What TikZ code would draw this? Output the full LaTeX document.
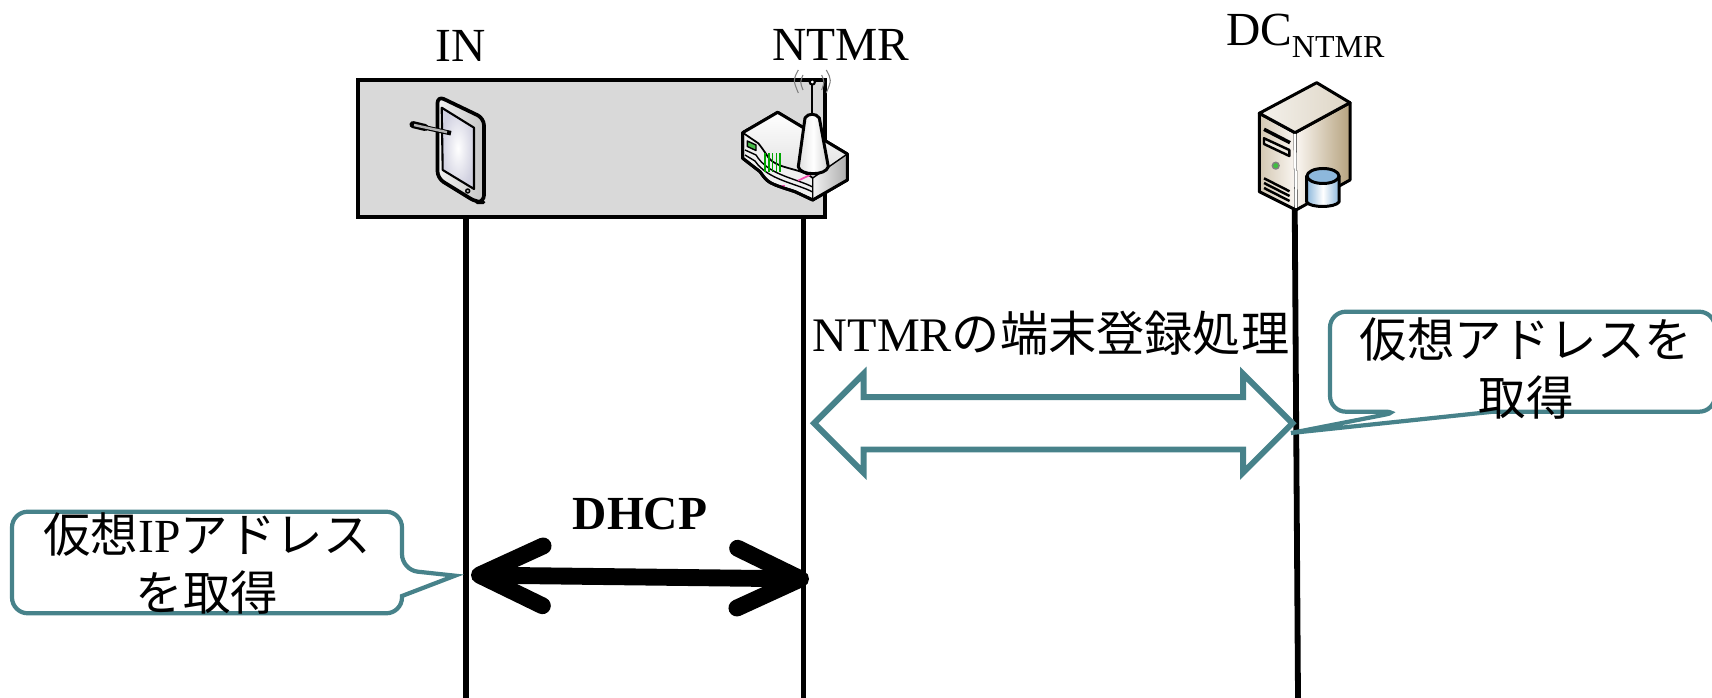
\documentclass[tikz,border=0pt]{standalone}
\usepackage{fontspec}
\setmainfont{Liberation Serif}
\newfontfamily\cjk{Noto Sans CJK JP}
\usetikzlibrary{arrows.meta,shapes.arrows}
\definecolor{calloutteal}{HTML}{47828A}
\definecolor{boxgray}{HTML}{D9D9D9}
\definecolor{drumblue}{HTML}{8DB8DC}
\definecolor{servertan}{HTML}{B5A27E}
\tikzset{
  bigtext/.style={font=\fontsize{13.5}{16.5}\selectfont,inner sep=0pt,outer sep=0pt},
  lifeline/.style={line width=1.65pt},
  icon/.style={line width=.85pt,line join=round},
  thin icon/.style={line width=.4pt,line join=round},
  calloutbox/.style={draw=calloutteal,line width=1.2pt,fill=white},
  dhcparrow/.style={line width=4.8pt,{Straight Barb[length=18pt,width=17pt,round]}-{Straight Barb[length=18pt,width=17pt,round]}},
  regarrow/.style={double arrow,draw=calloutteal,line width=1.7pt,inner xsep=0pt,inner ysep=6.6pt,
    double arrow head extend=6.6pt,minimum height=136pt,outer sep=0pt}
}
\begin{document}
\begin{tikzpicture}[x=.01cm,y=-.01cm]
  \useasboundingbox (0,0) rectangle (1712,698);
  \node[draw,line width=1.15pt,fill=boxgray,inner sep=0pt,minimum width=132.9pt,minimum height=38.9pt] (hostbox) at (591.5,148.5) {};
  \node[bigtext,anchor=base] (inlabel) at (461,62) {IN};
  \node[bigtext,anchor=base] (ntmrlabel) at (841,61) {NTMR};
  \node[bigtext,anchor=base west] (dclabel) at (1226,46) {DC\raisebox{-3.4pt}{\fontsize{9.1}{10}\selectfont NTMR}};
  \coordinate (intop) at (466,216);
  \coordinate (inend) at (466,698);
  \coordinate (ntmrtop) at (803.5,216);
  \coordinate (ntmrend) at (803.5,698);
  \coordinate (dctop) at (1294.7,205);
  \coordinate (dcend) at (1298,698);
  \draw[lifeline] (intop) -- (inend);
  \draw[lifeline] (ntmrtop) -- (ntmrend);
  \draw[lifeline] (dctop) -- (dcend);
  % tablet
  \draw[icon,line width=1.05pt,rounded corners=2pt,left color=gray!10,right color=gray!45] (437.5,178.3) -- (437.5,96) -- (484,118.3) -- (484,202.3) -- (476.5,202.3) -- cycle;
  \draw[thin icon,line width=.6pt,inner color=white,outer color=blue!20!gray!30] (441.7,107.7) -- (474,127.7) -- (474,189) -- (442.7,170) -- cycle;
  \draw[line width=2pt,line cap=round] (413,124.6) -- (425,127.5);
  \draw[line width=1.3pt] (425,127.5) -- (451,133.2);
  \draw[gray!60,line width=.7pt] (414,125) -- (447,132.2);
  \draw[thin icon,fill=gray!60] (467.7,191) circle (2);
  % router
  \draw[gray,line width=.3pt] (798.3,70) .. controls (793,80) .. (798.3,93);
  \draw[gray,line width=.3pt] (803,75) .. controls (800,82) .. (803,90);
  \draw[gray,line width=.3pt] (826.3,70) .. controls (831.6,80) .. (826.3,93);
  \draw[gray,line width=.3pt] (821.6,75) .. controls (824.6,82) .. (821.6,90);
  \draw[icon,fill=gray!12] (742.7,132.7) -- (742.7,158.3) -- (760,171.7) .. controls (768,183) .. (795,191.7) -- (812.7,200) -- (847.3,180) -- (847.3,154) -- (777.7,112.3) -- cycle;
  \draw[thin icon,draw=none,top color=white,bottom color=gray!25] (742.7,132.7) -- (777.7,112.3) -- (847.3,154) -- (812.7,178) .. controls (800,167) and (775,170) .. (766.7,155) .. controls (762,148) .. (758.3,143.3) -- cycle;
  \draw[thin icon,left color=gray!10,right color=gray!65] (812.7,178) -- (847.3,154) -- (847.3,180) -- (812.7,200) -- cycle;
  \draw[thin icon,line width=.5pt] (742.7,132.7) -- (758.3,143.3) .. controls (762,148) .. (766.7,155) .. controls (775,170) and (800,167) .. (812.7,178);
  \draw[thin icon] (745,150) -- (756,155) .. controls (768,175) and (795,178) .. (812.7,187);
  \draw[thin icon] (745,155) -- (755,161) .. controls (768,180) and (795,183) .. (812.7,192);
  \draw[thin icon,draw=black,fill=green!45!gray] (747.3,141) -- (756,145) -- (756,150.5) -- (747.3,146.5) -- cycle;
  \foreach \xtick in {765,769,772.7,776.7,780}
    \draw[green!65!black,line width=.35pt] (\xtick,153.5) -- (\xtick,172);
  \draw[magenta!70,line width=.5pt] (798,180.7) -- (810,175);
  \draw[magenta!70,line width=.5pt] (781.7,186) -- (785,186);
  \draw[icon] (742.7,132.7) -- (777.7,112.3) -- (847.3,154) -- (847.3,180) -- (812.7,200) -- (795,191.7) .. controls (768,183) .. (760,171.7) -- (742.7,158.3) -- cycle;
  \draw[line width=.6pt] (812.3,85) -- (812.3,115);
  \draw[line width=.6pt,fill=white] (812.3,82) circle (2.6);
  \draw[icon,left color=gray!25,right color=gray!35,middle color=white] (805,118) .. controls (808,113) and (816,113) .. (819.3,118) -- (828.3,166.7) .. controls (826,176) and (800,176) .. (798.3,166.7) -- cycle;
  % server
  \draw[icon,left color=brown!6!white,right color=servertan] (1295,132.7) -- (1350,102.7) -- (1350,180) -- (1296,210) -- cycle;
  \draw[icon,left color=servertan!60!white,right color=brown!6!white] (1259.3,113.3) -- (1295,132.7) -- (1296,210) -- (1259.3,191.7) -- cycle;
  \draw[icon,left color=servertan!15!white,right color=servertan!45!white] (1259.3,113.3) -- (1316.7,82.7) -- (1350,102.7) -- (1295,132.7) -- cycle;
  \draw[white,line width=.7pt] (1295,134) -- (1296,208);
  \draw[line width=1pt] (1264,129.3) -- (1290,142.7);
  \draw[thin icon,line width=.7pt,fill=servertan!25!white] (1264,138.3) -- (1289.3,150) -- (1289.3,156) -- (1264,144) -- cycle;
  \draw[thin icon,draw=gray,fill=green!50!gray] (1275.7,165.7) circle (3.4);
  \foreach \yvent in {178.3,183,188}
    \draw[line width=.7pt] (1264,\yvent) -- (1289.5,\yvent+13);
  \draw[icon,left color=drumblue,right color=drumblue,middle color=white] (1306.7,176) -- (1306.7,202) .. controls (1310,208) and (1335,208) .. (1339,202) -- (1339,176) -- cycle;
  \draw[icon,thin icon,draw=black,line width=.85pt,fill=drumblue] (1323,176) ellipse (16 and 7.5);
  % sequence
  \node[bigtext,anchor=base,font=\fontsize{13.5}{16.5}\selectfont\bfseries] (dhcplabel) at (640,530) {DHCP};
  \coordinate (dhcpleft) at (471,575);
  \coordinate (dhcpright) at (809,579);
  \draw[dhcparrow] (dhcpleft) -- (dhcpright);
  \node[regarrow] (regbody) at (1053.3,423.3) {};
  \node[bigtext,anchor=base,font=\fontsize{13.7}{16.5}\selectfont] (reglabel) at (1051,352) {NTMR{\cjk の端末登録処理}};
  % callouts
  \coordinate (lefttip) at (455,575.7);
  \coordinate (righttip) at (1291,433);
  \draw[calloutbox,rounded corners=4.5pt] (402,570) [sharp corners] -- (lefttip) -- (402,596) [rounded corners=4.5pt] -- (402,613.3) -- (12,613.3) -- (12,511.7) -- (402,511.7) -- cycle;
  \draw[calloutbox,rounded corners=4.5pt] (1400,411.7) [sharp corners] -- (righttip) -- (1493,411.7) [rounded corners=4.5pt] -- (1715,411.7) -- (1715,311.7) -- (1330,311.7) -- (1330,411.7) -- cycle;
  \node[bigtext,align=center,anchor=center] (leftnote) at (207,564) {{\cjk 仮想}IP{\cjk アドレス}\\{\cjk を取得}};
  \node[bigtext,align=center,anchor=center] (rightnote) at (1526,369) {{\cjk 仮想アドレスを}\\{\cjk 取得}};
\end{tikzpicture}
\end{document}
